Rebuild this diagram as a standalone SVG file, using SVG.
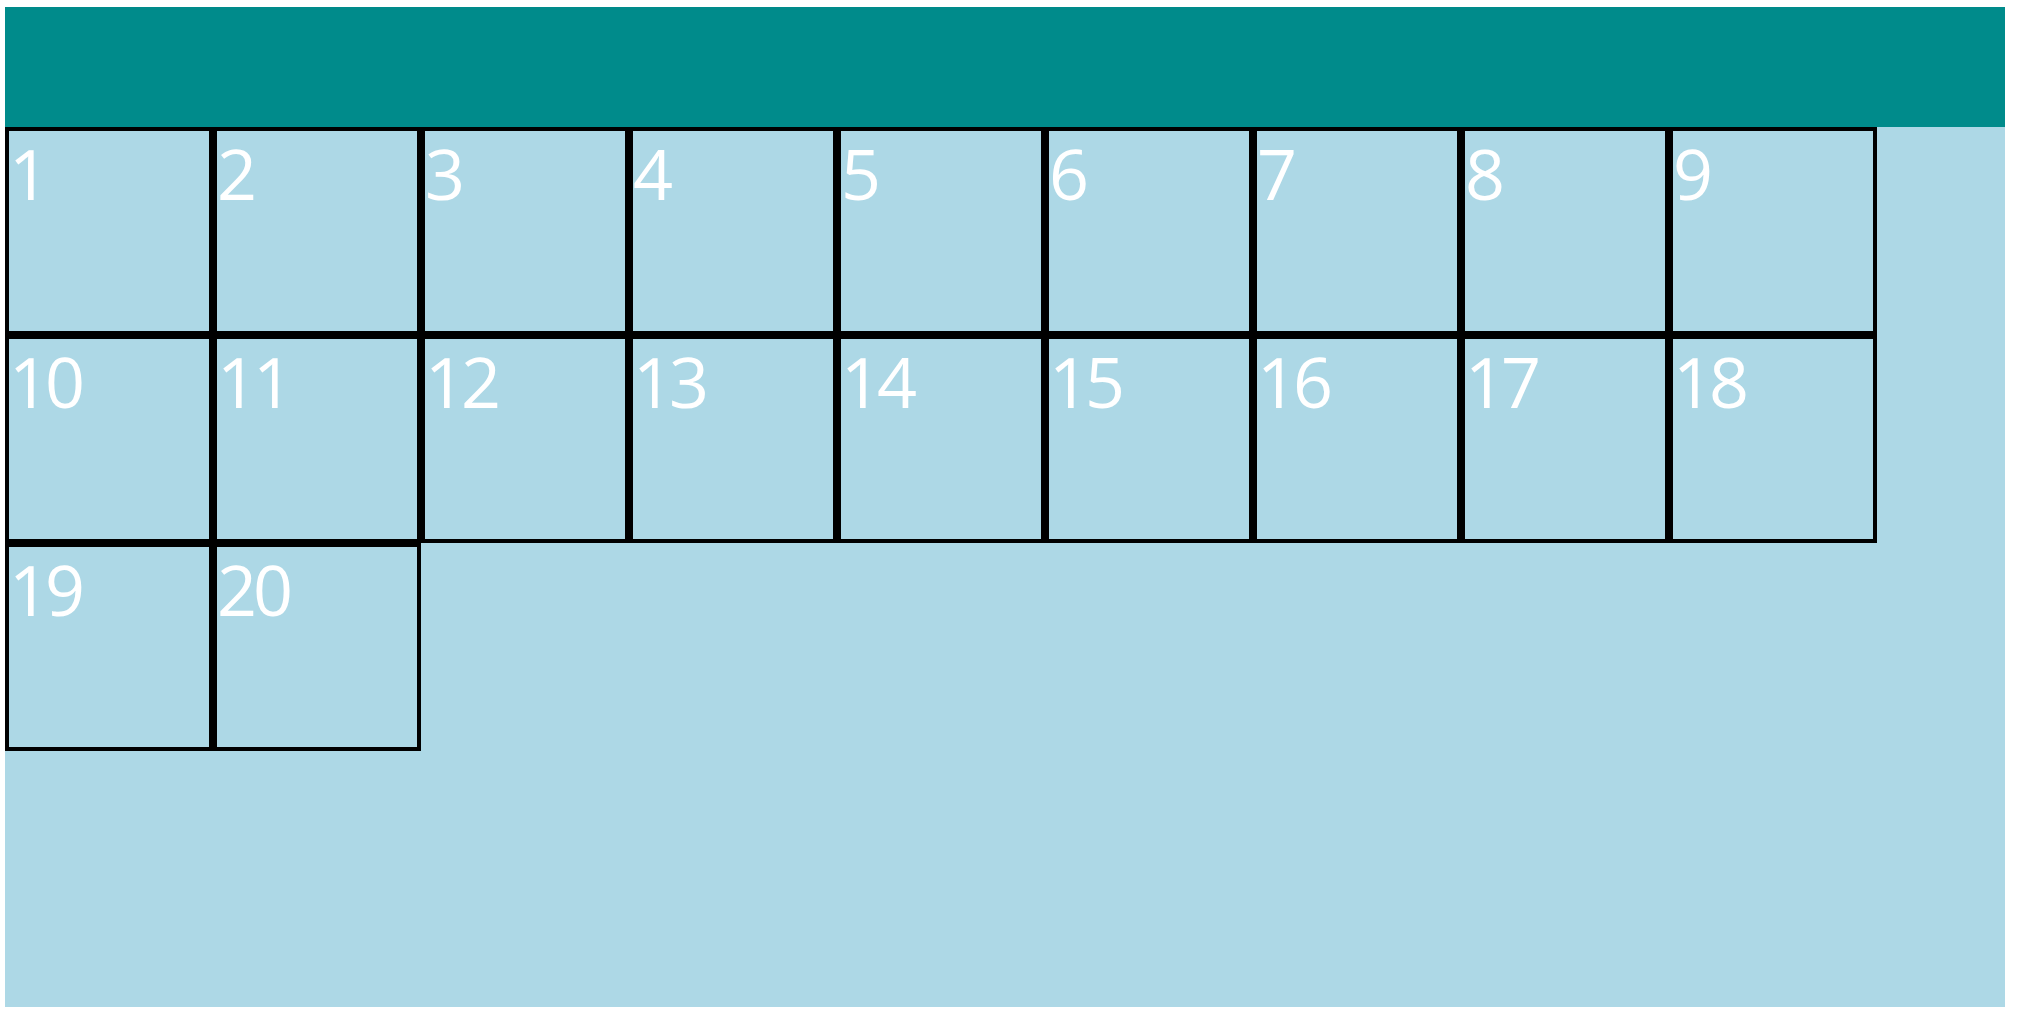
<svg xmlns="http://www.w3.org/2000/svg" width="2040" height="1021" viewBox="0 0 2040 1021">
<style>
.cell rect{fill:#ADD8E6;stroke:#000;stroke-width:4}
.cell text{fill:#fff;font-family:"Open Sans","Noto Sans",sans-serif;font-size:70px;letter-spacing:-4px}
</style>
<rect x="0" y="0" width="2040" height="1021" fill="#fff"/>
<rect id="page" x="5" y="7" width="2000" height="1000" fill="#ADD8E6"/>
<rect id="header" x="5" y="7" width="2000" height="120" fill="#008B8B"/>
<g id="c1" class="cell"><rect x="7" y="129" width="204" height="204"/><text x="9" y="200">1</text></g>
<g id="c2" class="cell"><rect x="215" y="129" width="204" height="204"/><text x="217" y="200">2</text></g>
<g id="c3" class="cell"><rect x="423" y="129" width="204" height="204"/><text x="425" y="200">3</text></g>
<g id="c4" class="cell"><rect x="631" y="129" width="204" height="204"/><text x="633" y="200">4</text></g>
<g id="c5" class="cell"><rect x="839" y="129" width="204" height="204"/><text x="841" y="200">5</text></g>
<g id="c6" class="cell"><rect x="1047" y="129" width="204" height="204"/><text x="1049" y="200">6</text></g>
<g id="c7" class="cell"><rect x="1255" y="129" width="204" height="204"/><text x="1257" y="200">7</text></g>
<g id="c8" class="cell"><rect x="1463" y="129" width="204" height="204"/><text x="1465" y="200">8</text></g>
<g id="c9" class="cell"><rect x="1671" y="129" width="204" height="204"/><text x="1673" y="200">9</text></g>
<g id="c10" class="cell"><rect x="7" y="337" width="204" height="204"/><text x="9" y="408">10</text></g>
<g id="c11" class="cell"><rect x="215" y="337" width="204" height="204"/><text x="217" y="408">11</text></g>
<g id="c12" class="cell"><rect x="423" y="337" width="204" height="204"/><text x="425" y="408">12</text></g>
<g id="c13" class="cell"><rect x="631" y="337" width="204" height="204"/><text x="633" y="408">13</text></g>
<g id="c14" class="cell"><rect x="839" y="337" width="204" height="204"/><text x="841" y="408">14</text></g>
<g id="c15" class="cell"><rect x="1047" y="337" width="204" height="204"/><text x="1049" y="408">15</text></g>
<g id="c16" class="cell"><rect x="1255" y="337" width="204" height="204"/><text x="1257" y="408">16</text></g>
<g id="c17" class="cell"><rect x="1463" y="337" width="204" height="204"/><text x="1465" y="408">17</text></g>
<g id="c18" class="cell"><rect x="1671" y="337" width="204" height="204"/><text x="1673" y="408">18</text></g>
<g id="c19" class="cell"><rect x="7" y="545" width="204" height="204"/><text x="9" y="616">19</text></g>
<g id="c20" class="cell"><rect x="215" y="545" width="204" height="204"/><text x="217" y="616">20</text></g>
<g id="connectors"/>
</svg>
